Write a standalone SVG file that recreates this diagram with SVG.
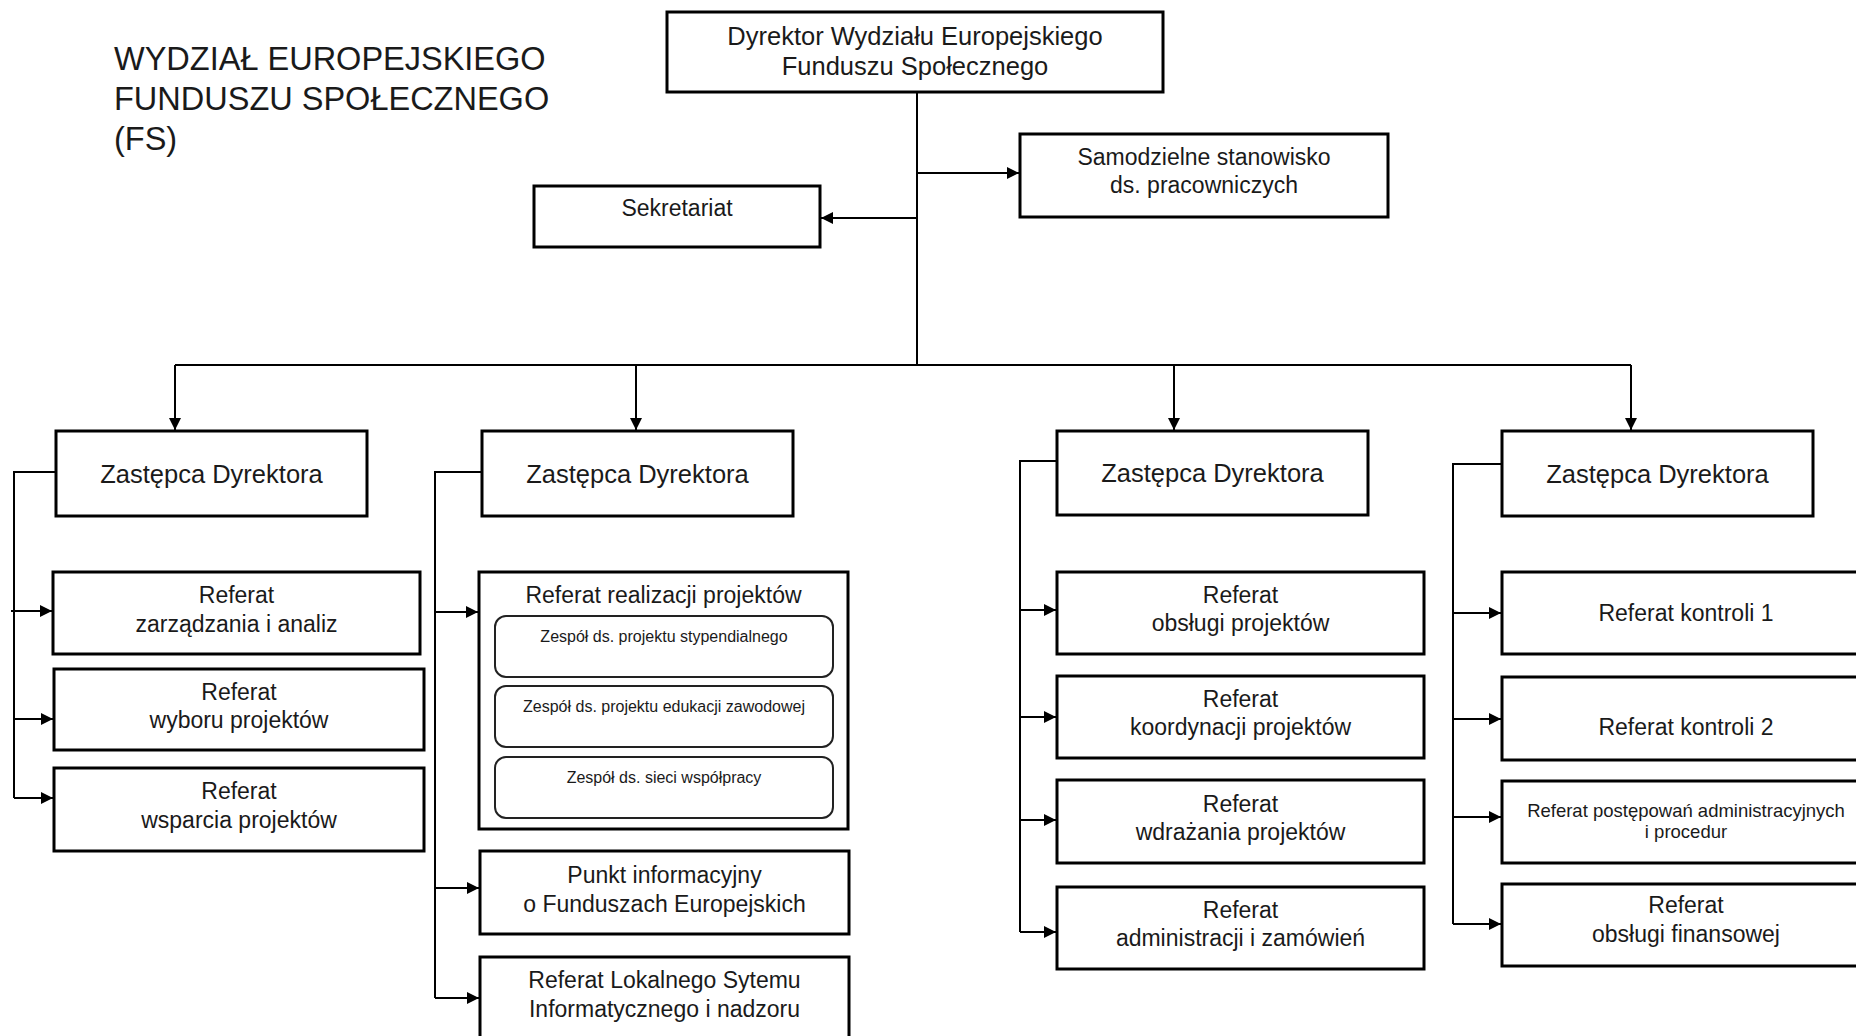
<svg xmlns="http://www.w3.org/2000/svg" width="1856" height="1036" viewBox="0 0 1856 1036">
<style>
.box{fill:#fff;stroke:#000;stroke-width:3}
.sub{fill:#fff;stroke:#222;stroke-width:2}
text{font-family:"Liberation Sans",Arial,sans-serif;fill:#1a1a1a;text-anchor:middle}
.f23{font-size:23px}
.f25{font-size:25.5px}
.f18{font-size:18.5px}
.f16{font-size:16px}
.conn path{stroke:#000;stroke-width:2;fill:none}
</style>
<defs>
<marker id="ar" viewBox="0 0 12 12" refX="12" refY="6" markerWidth="12" markerHeight="12" markerUnits="userSpaceOnUse" orient="auto">
<path d="M0,0 L12,6 L0,12 z" fill="#000"/>
</marker>
</defs>
<rect width="1856" height="1036" fill="#fff"/>

<g id="title">
<text x="114" y="70" style="font-size:32.5px;text-anchor:start">WYDZIAŁ EUROPEJSKIEGO</text>
<text x="114" y="110" style="font-size:32.5px;text-anchor:start">FUNDUSZU SPOŁECZNEGO</text>
<text x="114" y="150" style="font-size:32.5px;text-anchor:start">(FS)</text>
</g>

<g class="conn">
<path d="M917,92 V365"/>
<path d="M917,173 H1019" marker-end="url(#ar)"/>
<path d="M917,218 H821" marker-end="url(#ar)"/>
<path d="M175,365 H1631"/>
<path d="M175,365 V430" marker-end="url(#ar)"/>
<path d="M636,365 V430" marker-end="url(#ar)"/>
<path d="M1174,365 V430" marker-end="url(#ar)"/>
<path d="M1631,365 V430" marker-end="url(#ar)"/>
<path d="M56,472 H14 V798"/>
<path d="M11,611 H52" marker-end="url(#ar)"/>
<path d="M14,719 H53" marker-end="url(#ar)"/>
<path d="M14,798 H53" marker-end="url(#ar)"/>
<path d="M482,472 H435 V998"/>
<path d="M435,612 H478" marker-end="url(#ar)"/>
<path d="M435,888 H479" marker-end="url(#ar)"/>
<path d="M435,998 H479" marker-end="url(#ar)"/>
<path d="M1057,461 H1020 V932"/>
<path d="M1020,610 H1056" marker-end="url(#ar)"/>
<path d="M1020,717 H1056" marker-end="url(#ar)"/>
<path d="M1020,820 H1056" marker-end="url(#ar)"/>
<path d="M1020,932 H1056" marker-end="url(#ar)"/>
<path d="M1502,464 H1453 V924"/>
<path d="M1453,613 H1501" marker-end="url(#ar)"/>
<path d="M1453,719 H1501" marker-end="url(#ar)"/>
<path d="M1453,817 H1501" marker-end="url(#ar)"/>
<path d="M1453,924 H1501" marker-end="url(#ar)"/>
</g>

<g id="dyrektor">
<rect class="box" x="667" y="12" width="496" height="80"/>
<text class="f25" x="915" y="45">Dyrektor Wydziału Europejskiego</text>
<text class="f25" x="915" y="75">Funduszu Społecznego</text>
</g>
<g id="samodzielne">
<rect class="box" x="1020" y="134" width="368" height="83"/>
<text class="f23" x="1204" y="165">Samodzielne stanowisko</text>
<text class="f23" x="1204" y="193">ds. pracowniczych</text>
</g>
<g id="sekretariat">
<rect class="box" x="534" y="186" width="286" height="61"/>
<text class="f23" x="677" y="216">Sekretariat</text>
</g>

<g id="zastepca1">
<rect class="box" x="56" y="431" width="311" height="85"/>
<text class="f25" x="211.5" y="483">Zastępca Dyrektora</text>
</g>
<g id="zastepca2">
<rect class="box" x="482" y="431" width="311" height="85"/>
<text class="f25" x="637.5" y="483">Zastępca Dyrektora</text>
</g>
<g id="zastepca3">
<rect class="box" x="1057" y="431" width="311" height="84"/>
<text class="f25" x="1212.5" y="482">Zastępca Dyrektora</text>
</g>
<g id="zastepca4">
<rect class="box" x="1502" y="431" width="311" height="85"/>
<text class="f25" x="1657.5" y="483">Zastępca Dyrektora</text>
</g>

<g id="ref-zarzadzania">
<rect class="box" x="53" y="572" width="367" height="82"/>
<text class="f23" x="236.5" y="603">Referat</text>
<text class="f23" x="236.5" y="632">zarządzania i analiz</text>
</g>
<g id="ref-wyboru">
<rect class="box" x="54" y="669" width="370" height="81"/>
<text class="f23" x="239" y="700">Referat</text>
<text class="f23" x="239" y="728">wyboru projektów</text>
</g>
<g id="ref-wsparcia">
<rect class="box" x="54" y="768" width="370" height="83"/>
<text class="f23" x="239" y="799">Referat</text>
<text class="f23" x="239" y="828">wsparcia projektów</text>
</g>

<g id="ref-realizacji">
<rect class="box" x="479" y="572" width="369" height="257"/>
<text class="f23" x="663.5" y="603">Referat realizacji projektów</text>
</g>
<g id="zespol-stypendialny">
<rect class="sub" x="495" y="616" width="338" height="61" rx="11"/>
<text class="f16" x="664" y="642">Zespół ds. projektu stypendialnego</text>
</g>
<g id="zespol-edukacji">
<rect class="sub" x="495" y="686" width="338" height="61" rx="11"/>
<text class="f16" x="664" y="712">Zespół ds. projektu edukacji zawodowej</text>
</g>
<g id="zespol-sieci">
<rect class="sub" x="495" y="757" width="338" height="61" rx="11"/>
<text class="f16" x="664" y="783">Zespół ds. sieci współpracy</text>
</g>
<g id="punkt-informacyjny">
<rect class="box" x="480" y="851" width="369" height="83"/>
<text class="f23" x="664.5" y="883">Punkt informacyjny</text>
<text class="f23" x="664.5" y="912">o Funduszach Europejskich</text>
</g>
<g id="ref-lokalnego">
<rect class="box" x="480" y="957" width="369" height="90"/>
<text class="f23" x="664.5" y="988">Referat Lokalnego Sytemu</text>
<text class="f23" x="664.5" y="1017">Informatycznego i nadzoru</text>
</g>

<g id="ref-obslugi">
<rect class="box" x="1057" y="572" width="367" height="82"/>
<text class="f23" x="1240.5" y="603">Referat</text>
<text class="f23" x="1240.5" y="631">obsługi projektów</text>
</g>
<g id="ref-koordynacji">
<rect class="box" x="1057" y="676" width="367" height="82"/>
<text class="f23" x="1240.5" y="707">Referat</text>
<text class="f23" x="1240.5" y="735">koordynacji projektów</text>
</g>
<g id="ref-wdrazania">
<rect class="box" x="1057" y="780" width="367" height="83"/>
<text class="f23" x="1240.5" y="812">Referat</text>
<text class="f23" x="1240.5" y="840">wdrażania projektów</text>
</g>
<g id="ref-administracji">
<rect class="box" x="1057" y="887" width="367" height="82"/>
<text class="f23" x="1240.5" y="918">Referat</text>
<text class="f23" x="1240.5" y="946">administracji i zamówień</text>
</g>

<g id="ref-kontroli1">
<rect class="box" x="1502" y="572" width="370" height="82"/>
<text class="f23" x="1686" y="621">Referat kontroli 1</text>
</g>
<g id="ref-kontroli2">
<rect class="box" x="1502" y="677" width="370" height="83"/>
<text class="f23" x="1686" y="735">Referat kontroli 2</text>
</g>
<g id="ref-postepowan">
<rect class="box" x="1502" y="781" width="370" height="82"/>
<text class="f18" x="1686" y="817">Referat postępowań administracyjnych</text>
<text class="f18" x="1686" y="838">i procedur</text>
</g>
<g id="ref-finansowej">
<rect class="box" x="1502" y="884" width="370" height="82"/>
<text class="f23" x="1686" y="913">Referat</text>
<text class="f23" x="1686" y="942">obsługi finansowej</text>
</g>
</svg>
